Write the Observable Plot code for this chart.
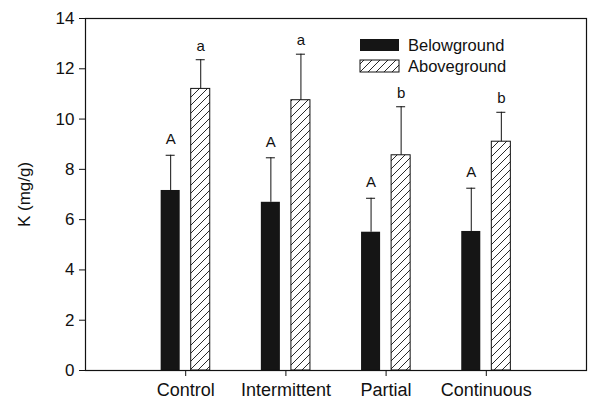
<!DOCTYPE html>
<html>
<head>
<meta charset="utf-8">
<script src="https://cdn.jsdelivr.net/npm/d3@7"></script>
<script src="https://cdn.jsdelivr.net/npm/@observablehq/plot@0.6"></script>
<style>
  html, body { margin: 0; padding: 0; background: #fff; }
  #chart svg { display: block; }
</style>
</head>
<body>
<div id="chart"></div>
<script>
const categories = ["Control", "Intermittent", "Partial", "Continuous"];
const belowground = [7.16, 6.69, 5.50, 5.53];
const belowgroundErrTop = [8.56, 8.46, 6.85, 7.25];
const aboveground = [11.20, 10.75, 8.56, 9.10];
const abovegroundErrTop = [12.36, 12.58, 10.49, 10.27];
const belowLetters = ["A", "A", "A", "A"];
const aboveLetters = ["a", "a", "b", "b"];
const yTicks = [0, 2, 4, 6, 8, 10, 12, 14];
const seriesNames = ["Belowground", "Aboveground"];

// layout constants (in x-scale units, one category step = 1)
const barOff = 0.15, barHalf = 0.095, capHalf = 0.045;

const rows = categories.map((c, i) => ({
  pos: i + 1,
  cat: c,
  below: belowground[i],
  belowErr: belowgroundErrTop[i],
  above: aboveground[i],
  aboveErr: abovegroundErrTop[i],
  bl: belowLetters[i],
  al: aboveLetters[i]
}));

const chart = Plot.plot({
  width: 589,
  height: 401,
  marginLeft: 85,
  marginRight: 3,
  marginTop: 18,
  marginBottom: 31,
  style: { fontFamily: "'Liberation Sans', Arial, sans-serif", fontSize: "18px", color: "#111", background: "#fff" },
  x: { domain: [0, 5], axis: null },
  y: { domain: [0, 14], axis: null },
  marks: [
    Plot.rectY(rows, { x1: d => d.pos - barOff - barHalf, x2: d => d.pos - barOff + barHalf, y1: 0, y2: "below", fill: "#151515" }),
    Plot.rectY(rows, { x1: d => d.pos + barOff - barHalf, x2: d => d.pos + barOff + barHalf, y1: 0, y2: "above", fill: "url(#hatch)", stroke: "#111", strokeWidth: 1 }),
    Plot.ruleX(rows, { x: d => d.pos - barOff, y1: "below", y2: "belowErr", stroke: "#111" }),
    Plot.ruleY(rows, { y: "belowErr", x1: d => d.pos - barOff - capHalf, x2: d => d.pos - barOff + capHalf, stroke: "#111" }),
    Plot.ruleX(rows, { x: d => d.pos + barOff, y1: "above", y2: "aboveErr", stroke: "#111" }),
    Plot.ruleY(rows, { y: "aboveErr", x1: d => d.pos + barOff - capHalf, x2: d => d.pos + barOff + capHalf, stroke: "#111" }),
    Plot.text(rows, { x: d => d.pos - barOff, y: "belowErr", text: "bl", dy: -16, fontSize: 15, fill: "#111" }),
    Plot.text(rows, { x: d => d.pos + barOff, y: "aboveErr", text: "al", dy: -14, fontSize: 15, fill: "#111" }),
    Plot.axisY({ ticks: yTicks, tickSize: 6, tickPadding: 5, label: "K (mg/g)", labelAnchor: "center", labelArrow: "none", labelOffset: 68, fontSize: 17, stroke: "#111" }),
    Plot.axisX({ ticks: [1, 2, 3, 4], tickFormat: d => categories[d - 1], tickSize: 6, tickPadding: 7, label: null, stroke: "#111" }),
    Plot.frame({ stroke: "#111", strokeWidth: 1.2 })
  ]
});

const svg = d3.select(chart);
const defs = svg.insert("defs", ":first-child");
const pat = defs.append("pattern")
  .attr("id", "hatch")
  .attr("patternUnits", "userSpaceOnUse")
  .attr("width", 8).attr("height", 8);
pat.append("rect").attr("width", 8).attr("height", 8).attr("fill", "#fff");
pat.append("path")
  .attr("d", "M-1,1 L1,-1 M0,8 L8,0 M7,9 L9,7")
  .attr("stroke", "#111").attr("stroke-width", 0.9).attr("fill", "none");

// legend (in-plot, top right)
const lg = svg.append("g").attr("font-size", 16.5).attr("fill", "#111").attr("text-anchor", "start");
seriesNames.forEach((name, i) => {
  const y0 = 39 + i * 21;
  lg.append("rect").attr("x", 360).attr("y", y0).attr("width", 39).attr("height", 12)
    .attr("fill", i === 0 ? "#151515" : "url(#hatch)")
    .attr("stroke", "#111").attr("stroke-width", i === 0 ? 0 : 1);
  lg.append("text").attr("x", 408).attr("y", y0 + 6).attr("dy", "0.36em").attr("text-anchor", "start").text(name);
});

document.getElementById("chart").appendChild(chart);
</script>
</body>
</html>
